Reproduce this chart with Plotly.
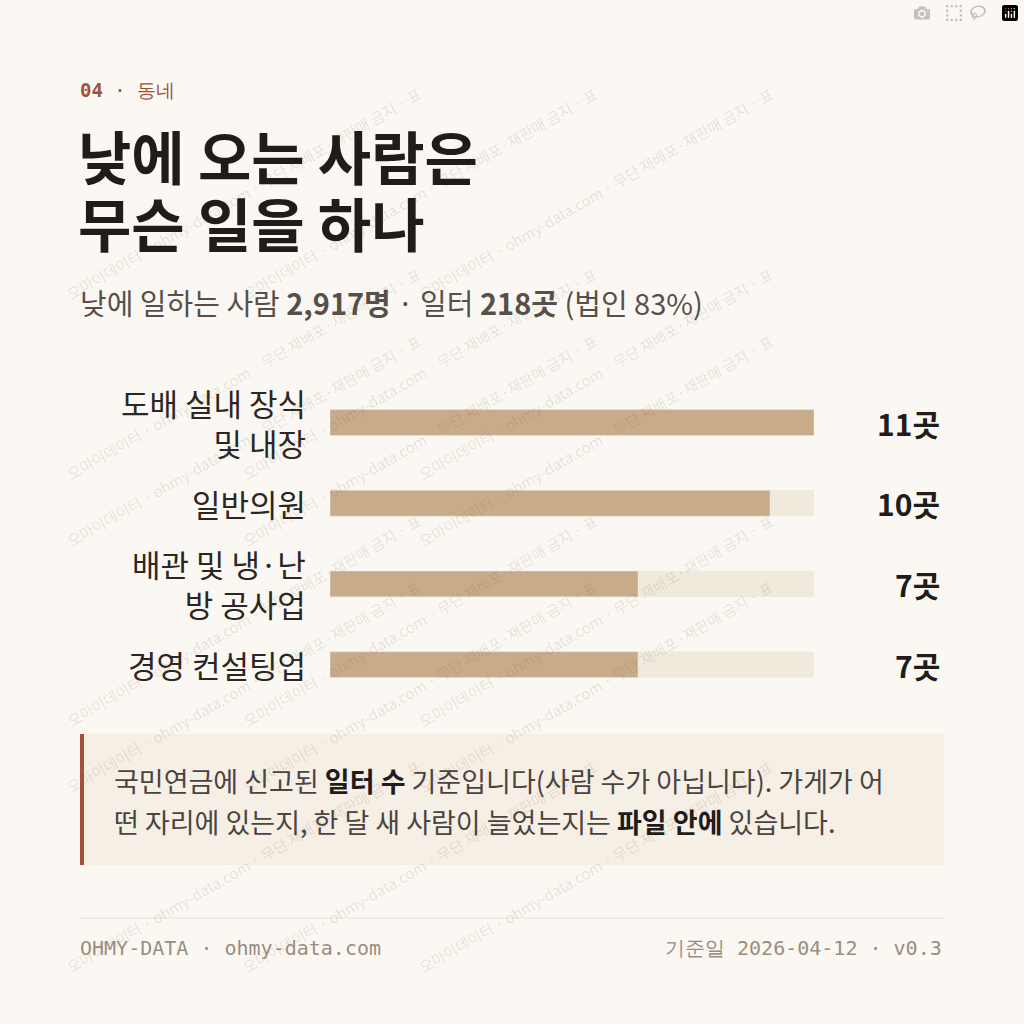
import plotly.graph_objects as go

categories = ["도배 실내 장식<br>및 내장", "일반의원", "배관 및 냉·난<br>방 공사업", "경영 컨설팅업"]
counts = [11, 10, 7, 7]
value_labels = ["11곳", "10곳", "7곳", "7곳"]
max_count = 11

BG = "#fbf8f3"
BAR = "#c8ab88"
TRACK = "#f2e9dd"
KR = "Noto Sans CJK KR"
MONO = "DejaVu Sans Mono"


def py(px):
    return 1 - px / 1024


def px_x(px):
    return px / 1024


fig = go.Figure()
fig.add_trace(go.Bar(y=categories, x=[max_count] * len(categories), orientation="h",
                     marker_color=TRACK, width=0.32, hoverinfo="skip"))
fig.add_trace(go.Bar(y=categories, x=counts, orientation="h",
                     marker_color=BAR, width=0.32))

ann = []
for c, lab in zip(categories, value_labels):
    ann.append(dict(x=px_x(308), y=c, xref="paper", yref="y", text=c, showarrow=False,
                    xanchor="right", align="right", font=dict(family=KR, size=31, color="#2a2623")))
    ann.append(dict(x=px_x(942), y=c, xref="paper", yref="y", text="<b>" + lab + "</b>", showarrow=False,
                    xanchor="right", font=dict(family=KR, size=30, color="#1f1c1a")))

# watermark
wm = "오마이데이터 · ohmy-data.com · 무단 재배포·재판매 금지 · 표"
for wy in [80, 260, 440, 620, 800, 980]:
    for wx in [60, 420, 780]:
        ann.append(dict(x=px_x(wx), y=py(wy), xref="paper", yref="paper", text=wm, showarrow=False,
                        textangle=-30, font=dict(family=KR, size=15, color="rgba(120,100,80,0.16)")))

def txt(x, y, t, size, color, family=KR, anchor="left"):
    ann.append(dict(x=px_x(x), y=py(y), xref="paper", yref="paper", text=t, showarrow=False,
                    xanchor=anchor, yanchor="middle", align="left",
                    font=dict(family=family, size=size, color=color)))

txt(78, 90, "<b>04</b> · 동네", 19, "#a0523a", MONO)
txt(76, 155, "<b>낮에 오는 사람은</b>", 58, "#1f1c1a")
txt(76, 222, "<b>무슨 일을 하나</b>", 58, "#1f1c1a")
txt(78, 302, "낮에 일하는 사람 <b>2,917명</b> · 일터 <b>218곳</b> (법인 83%)", 29, "#57504a")
txt(112, 780, "국민연금에 신고된 <b style='color:#1f1c1a'>일터 수</b> 기준입니다(사람 수가 아닙니다). 가게가 어", 27, "#4a443f")
txt(112, 821, "떤 자리에 있는지, 한 달 새 사람이 늘었는지는 <b style='color:#1f1c1a'>파일 안에</b> 있습니다.", 27, "#4a443f")
txt(78, 948, "OHMY-DATA · ohmy-data.com", 20, "#9a8d7f", MONO)
txt(944, 948, "기준일 2026-04-12 · v0.3", 20, "#9a8d7f", MONO, anchor="right")

shapes = [
    dict(type="rect", xref="paper", yref="paper", x0=px_x(80), x1=px_x(944), y0=py(865), y1=py(734),
         fillcolor="#f6efe6", line_width=0, layer="below"),
    dict(type="rect", xref="paper", yref="paper", x0=px_x(80), x1=px_x(84), y0=py(865), y1=py(734),
         fillcolor="#a0523a", line_width=0),
    dict(type="line", xref="paper", yref="paper", x0=px_x(80), x1=px_x(944), y0=py(918), y1=py(918),
         line=dict(color="#e8e2da", width=1)),
]

fig.update_layout(
    width=1024, height=1024, margin=dict(l=0, r=0, t=0, b=0),
    paper_bgcolor=BG, plot_bgcolor=BG, barmode="overlay", showlegend=False,
    xaxis=dict(domain=[px_x(330), px_x(814)], range=[0, max_count], visible=False, fixedrange=True),
    yaxis=dict(domain=[py(705), py(378)], autorange="reversed", visible=False, fixedrange=True),
    annotations=ann, shapes=shapes,
)
fig.write_html("out.html", post_script="document.body.style.margin='0';")
